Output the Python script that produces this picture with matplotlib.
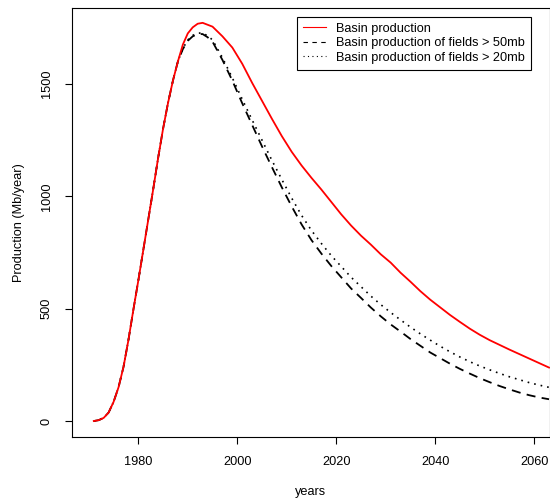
"""Basin production vs years -- total basin and fields above size cut-offs."""
import matplotlib as mpl
mpl.use("Agg")
mpl.rcParams.update({
    "font.family": "sans-serif",
    "font.sans-serif": ["Liberation Sans", "DejaVu Sans"],
    "font.size": 9.2,
})
import matplotlib.pyplot as plt
from matplotlib.lines import Line2D

# rising part shared by all three curves
rise_years = [1971, 1972, 1973, 1974, 1975, 1976, 1977, 1978, 1979, 1980,
              1981, 1982, 1983, 1984, 1985, 1986, 1987, 1988]
rise_vals = [0, 4, 14, 38, 85, 150, 240, 360, 495, 625,
             760, 895, 1030, 1170, 1300, 1415, 1515, 1600]

# basin production (red)
basin_years = [1989, 1990, 1991, 1992, 1993, 1995, 1997, 1999, 2001, 2003,
               2005, 2007, 2009, 2011, 2013, 2015, 2017, 2019, 2021, 2023,
               2025, 2027, 2029, 2031, 2033, 2035, 2037, 2039, 2041, 2043,
               2045, 2047, 2049, 2051, 2053, 2055, 2057, 2059, 2061, 2063]
basin_vals = [1675, 1725, 1752, 1768, 1772, 1755, 1712, 1662, 1590, 1505,
              1425, 1345, 1268, 1198, 1137, 1082, 1030, 975, 920, 870,
              825, 785, 742, 705, 660, 620, 578, 540, 506, 472,
              441, 411, 384, 360, 339, 318, 298, 278, 258, 238]

# fields > 50mb (dashed)
f50_years = [1989, 1990, 1991, 1992, 1993, 1994, 1995, 1997, 1999, 2001,
             2003, 2005, 2007, 2009, 2011, 2013, 2015, 2017, 2019, 2021,
             2023, 2025, 2027, 2029, 2031, 2033, 2035, 2037, 2039, 2041,
             2043, 2045, 2047, 2049, 2051, 2053, 2055, 2057, 2059, 2061, 2063]
f50_vals = [1655, 1692, 1712, 1722, 1722, 1708, 1688, 1607, 1515, 1414,
            1318, 1222, 1130, 1040, 955, 875, 805, 745, 690, 640,
            590, 548, 505, 466, 430, 398, 365, 335, 305, 280,
            255, 232, 211, 191, 173, 156, 141, 127, 115, 105, 97]

# fields > 20mb (dotted)
f20_years = [1989, 1990, 1991, 1992, 1993, 1994, 1995, 1997, 1999, 2001,
             2003, 2005, 2007, 2009, 2011, 2013, 2015, 2017, 2019, 2021,
             2023, 2025, 2027, 2029, 2031, 2033, 2035, 2037, 2039, 2041,
             2043, 2045, 2047, 2049, 2051, 2053, 2055, 2057, 2059, 2061, 2063]
f20_vals = [1658, 1696, 1716, 1726, 1727, 1714, 1696, 1617, 1527, 1432,
            1340, 1250, 1160, 1075, 992, 915, 848, 790, 736, 688,
            640, 598, 556, 518, 483, 450, 418, 388, 360, 333,
            308, 285, 264, 245, 228, 212, 197, 184, 171, 160, 150]

labels = ["Basin production",
          "Basin production of fields > 50mb",
          "Basin production of fields > 20mb"]
x_ticks = [1980, 2000, 2020, 2040, 2060]
y_ticks = [0, 500, 1000, 1500]

fig = plt.figure(figsize=(5.5, 5.01), dpi=100)
ax = fig.add_axes([72 / 550, 64 / 501, 478 / 550, 429 / 501])

ax.plot(rise_years + f20_years, rise_vals + f20_vals, color="black", lw=1.2,
        dashes=(1, 3))
ax.plot(rise_years + f50_years, rise_vals + f50_vals, color="black", lw=1.3,
        dashes=(5, 3.5))
ax.plot(rise_years + basin_years, rise_vals + basin_vals, color="#ff0000", lw=1.3)

ax.set_xlim(1966.6, 2063.2)
ax.set_ylim(-71, 1838)
ax.set_xticks(x_ticks)
ax.set_yticks(y_ticks)
ax.tick_params(direction="out", length=5, width=0.8, labelsize=9.2, pad=9)
ax.tick_params(axis="y", labelrotation=90)
for lab in ax.get_yticklabels():
    lab.set_va("center")
for sp in ax.spines.values():
    sp.set_linewidth(0.8)
ax.set_xlabel("years", fontsize=9.2, labelpad=13)
ax.set_ylabel("Production (Mb/year)", fontsize=9.2, labelpad=11)

handles = [Line2D([], [], color="#ff0000", lw=0.8),
           Line2D([], [], color="black", lw=0.8, dashes=(4, 4)),
           Line2D([], [], color="black", lw=0.8, dashes=(1, 3))]
leg = ax.legend(handles, labels, loc="upper left", bbox_to_anchor=(297 / 550, 1 - 17 / 501),
                bbox_transform=fig.transFigure, borderaxespad=0, fancybox=False,
                edgecolor="black", framealpha=1, fontsize=9.2, handlelength=1.8,
                handletextpad=0.8, labelspacing=0.2, borderpad=0.45)
leg.get_frame().set_linewidth(0.8)

fig.savefig("out.png", dpi=100)
